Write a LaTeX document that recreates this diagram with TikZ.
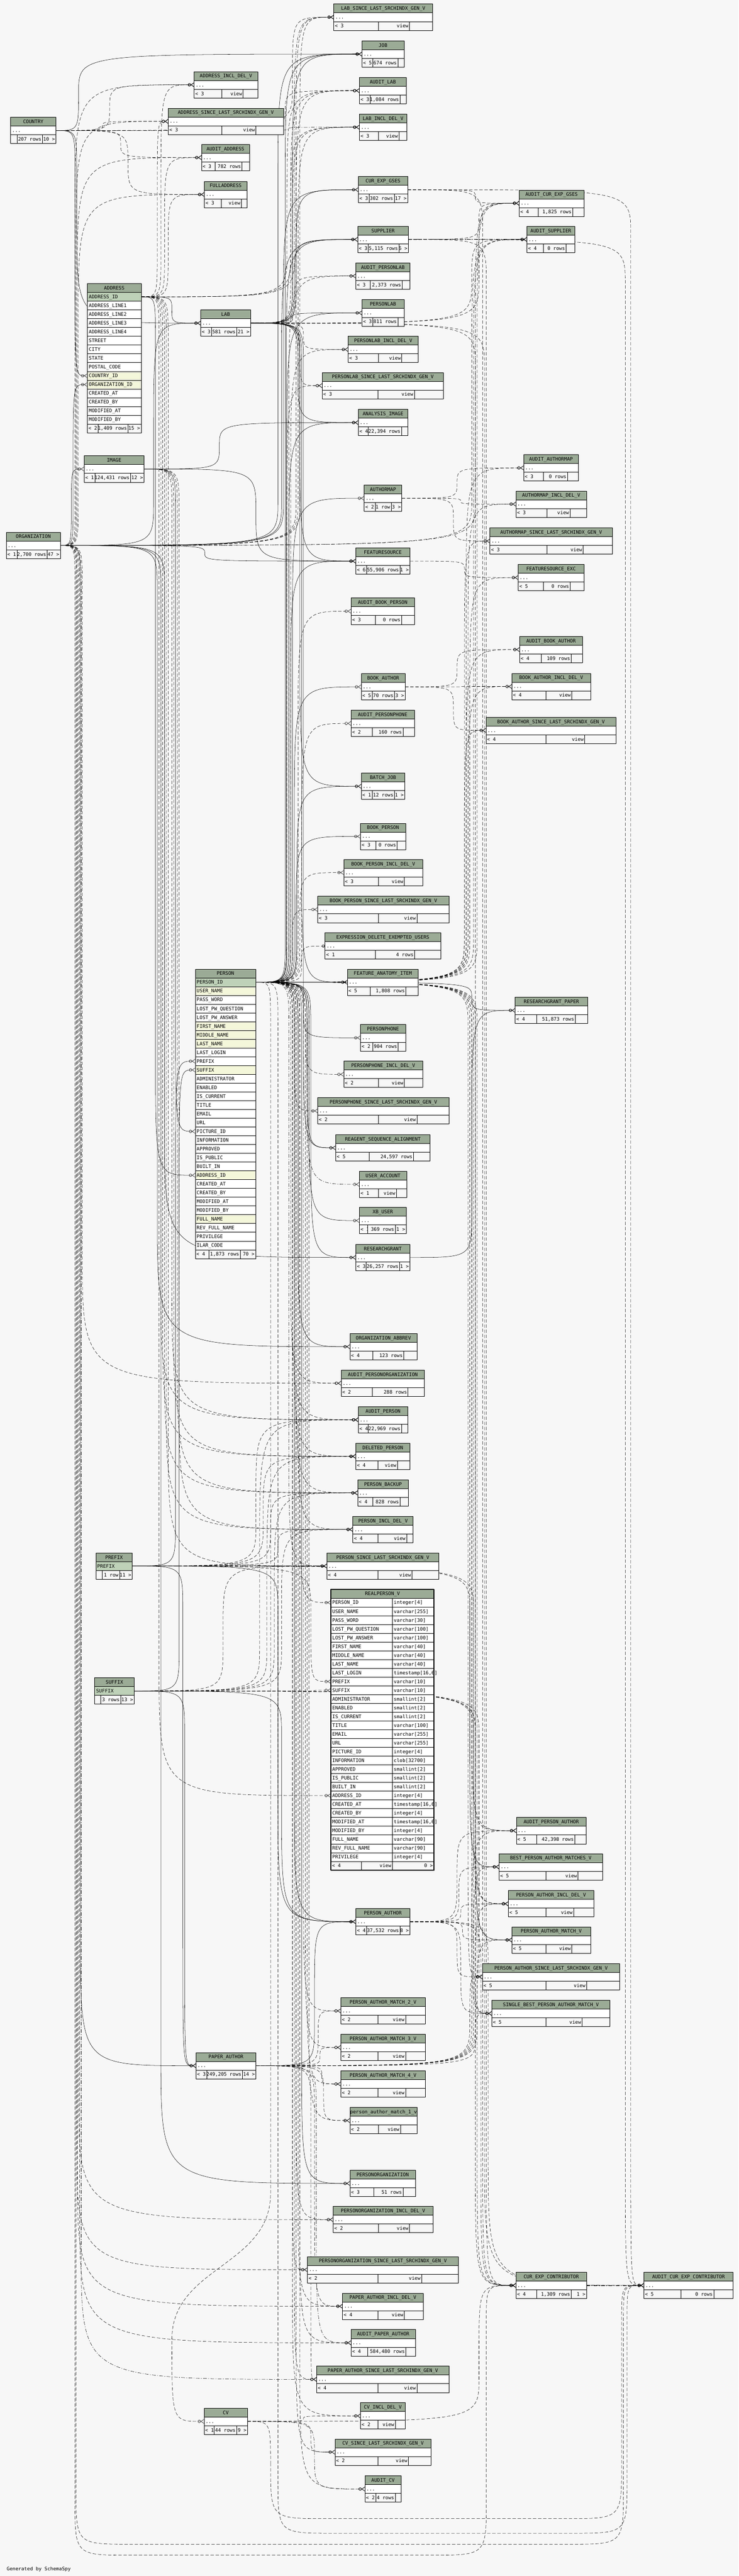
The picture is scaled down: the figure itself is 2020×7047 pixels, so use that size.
\documentclass[tikz,border=0pt]{standalone}
\usepackage{fontspec}
\newfontfamily\schemamono{DejaVu Sans Mono}
\usetikzlibrary{arrows.meta,calc,backgrounds,positioning}
\definecolor{bgcol}{HTML}{F7F7F7}
\definecolor{hdcol}{HTML}{9BAB96}
\definecolor{pkcol}{HTML}{BED1B8}
\definecolor{ixcol}{HTML}{F4F7DA}
\newcommand\schemafont{\schemamono\fontsize{13.2pt}{15pt}\selectfont}
\tikzset{
  tcell/.style={draw=black,line width=1pt,inner sep=0pt,outer sep=0pt,minimum height=24pt,
    text height=12.6pt,text depth=3pt,anchor=north west,font=\schemafont},
  hd/.style={tcell,fill=hdcol},
  plain/.style={tcell,fill=white},
  pk/.style={tcell,fill=pkcol},
  ix/.style={tcell,fill=ixcol},
  ft/.style={tcell,fill=bgcol},
  link/.style={line width=0.75pt,-{Circle[open,length=8pt,width=8pt]Straight Barb[reversed,length=8pt,width=11pt]}},
  implied/.style={dash pattern=on 9pt off 5pt},
  dotdash/.style={dash pattern=on 10pt off 4pt on 2pt off 4pt},
  onlyone/.style={-{Circle[open,length=8pt,width=8pt]Bar[width=11pt]}}
}
\newcommand\tblfoot[9]{%
  \node[ft,minimum width=#5pt] (#1-a) at (#2,#3) {\makebox[\dimexpr#5pt-6pt\relax][l]{#7}};
  \node[ft,minimum width=#6pt] (#1-b) at (#1-a.north east) {\makebox[\dimexpr#6pt-6pt\relax][r]{#8}};
  \node[ft,minimum width={#4-#5-#6}] (#1-c) at (#1-b.north east) {\makebox[\dimexpr#4pt-#5pt-#6pt-6pt\relax][r]{#9}};}
\newcommand\tbl[9]{%
  \node[hd,minimum width=#4pt] (#1-h) at (#2,#3) {#1};
  \node[plain,minimum width=#4pt] (#1) at (#1-h.south west) {\makebox[\dimexpr#4pt-8pt\relax][l]{...}};
  \tblfoot{#1}{#2}{{#3+48}}{#4}{#5}{#6}{#7}{#8}{#9}}
\newcommand\fkey[4][]{%
  \draw[link,#1] let \p1=(#2),\p2=(#4),
    \n1={ifthenelse(\y2<\y1,-1,1)},
    \n2={min(120,abs(\y2-\y1)/2)},
    \n3={min(350,abs(\y2-\y1)/2)} in
    (\p1) .. controls (#3pt,\y1) .. (#3pt,{\y1+(\n1)*(\n2)})
    -- (#3pt,{\y2-(\n1)*(\n3)}) .. controls (#3pt,\y2) .. (\p2);}
\newcommand\fkeyb[6][]{%
  \draw[link,#1] let \p1=(#2),\p2=(#6) in
    (\p1) .. controls (#3pt,\y1) .. (#3pt,{\y1-120pt})
    -- (#3pt,{-#4pt+150pt}) .. controls (#3pt,-#4pt) .. ({#3pt+150pt},-#4pt)
    -- ({#5pt-150pt},-#4pt) .. controls (#5pt,-#4pt) .. (#5pt,{-#4pt+150pt})
    -- (#5pt,{\y2-100pt}) .. controls (#5pt,\y2) .. (\p2);}
\begin{document}
\catcode`\_=12
\begin{tikzpicture}[x=1pt,y=-1pt,line join=round]
\useasboundingbox (0,0) rectangle (2020,7047);
\begin{pgfonlayer}{background}
\fill[bgcol] (0,0) rectangle (2020,7047);
\end{pgfonlayer}

\tbl{LAB_SINCE_LAST_SRCHINDX_GEN_V}{913}{11}{270}{122}{85}{< 3}{view}{}
\tbl{JOB}{990}{112}{115}{29}{69}{< 5}{674 rows}{}
\tbl{ADDRESS_INCL_DEL_V}{531}{196}{174}{75}{59}{< 3}{view}{}
\tbl{AUDIT_LAB}{983}{212}{128}{29}{82}{< 3}{1,084 rows}{}
\tbl{ADDRESS_SINCE_LAST_SRCHINDX_GEN_V}{460}{296}{315}{146}{94}{< 3}{view}{}
\tbl{LAB_INCL_DEL_V}{983}{312}{129}{52}{56}{< 3}{view}{}
\tbl{COUNTRY}{29}{321}{124}{18}{69}{}{207 rows}{10 >}
\tbl{AUDIT_ADDRESS}{551}{395}{131}{37}{74}{< 3}{782 rows}{}
\tbl{CUR_EXP_GSES}{980}{483}{135}{29}{69}{< 3}{302 rows}{17 >}
\tbl{FULLADDRESS}{559}{496}{116}{46}{55}{< 3}{view}{}
\tbl{AUDIT_CUR_EXP_GSES}{1420}{520}{177}{52}{94}{< 4}{1,825 rows}{}
\tbl{SUPPLIER}{978}{619}{139}{29}{84}{< 3}{5,115 rows}{6 >}
\tbl{AUDIT_SUPPLIER}{1441}{619}{131}{45}{62}{< 4}{0 rows}{}
\tbl{AUDIT_PERSONLAB}{973}{719}{148}{39}{88}{< 3}{2,373 rows}{}
\tbl{PERSONLAB}{990}{820}{115}{29}{69}{< 3}{811 rows}{}
\tbl{LAB}{549}{848}{136}{30}{68}{< 3}{581 rows}{21 >}
\tbl{PERSONLAB_INCL_DEL_V}{952}{920}{192}{83}{64}{< 3}{view}{}
\tbl{PERSONLAB_SINCE_LAST_SRCHINDX_GEN_V}{881}{1019}{332}{153}{99}{< 3}{view}{}
\tbl{ANALYSIS_IMAGE}{980}{1120}{135}{27}{91}{< 4}{22,394 rows}{}
\tbl{AUDIT_AUTHORMAP}{1432}{1244}{150}{54}{66}{< 3}{0 rows}{}
\tbl{IMAGE}{230}{1247}{164}{30}{97}{< 1}{124,431 rows}{12 >}
\tbl{AUTHORMAP}{996}{1327}{103}{30}{44}{< 2}{1 row}{3 >}
\tbl{AUTHORMAP_INCL_DEL_V}{1411}{1343}{193}{85}{63}{< 3}{view}{}
\tbl{AUTHORMAP_SINCE_LAST_SRCHINDX_GEN_V}{1340}{1444}{335}{156}{99}{< 3}{view}{}
\tbl{ORGANIZATION}{17}{1456}{148}{30}{82}{< 1}{2,700 rows}{47 >}
\tbl{FEATURESOURCE}{973}{1499}{148}{30}{91}{< 6}{55,906 rows}{1 >}
\tbl{FEATURESOURCE_EXC}{1417}{1544}{180}{69}{73}{< 5}{0 rows}{}
\tbl{AUDIT_BOOK_PERSON}{960}{1636}{173}{66}{72}{< 3}{0 rows}{}
\tbl{AUDIT_BOOK_AUTHOR}{1421}{1741}{172}{59}{82}{< 4}{109 rows}{}
\tbl{BOOK_AUTHOR_INCL_DEL_V}{1400}{1842}{215}{93}{71}{< 4}{view}{}
\tbl{BOOK_AUTHOR}{988}{1843}{120}{30}{61}{< 5}{70 rows}{3 >}
\tbl{AUDIT_PERSONPHONE}{960}{1943}{173}{58}{84}{< 2}{160 rows}{}
\tbl{BOOK_AUTHOR_SINCE_LAST_SRCHINDX_GEN_V}{1329}{1962}{356}{164}{106}{< 4}{view}{}
\tbl{BATCH_JOB}{988}{2115}{119}{30}{61}{< 1}{12 rows}{1 >}
\tbl{BOOK_PERSON}{986}{2252}{123}{42}{58}{< 3}{0 rows}{}
\tbl{BOOK_PERSON_INCL_DEL_V}{940}{2351}{216}{95}{71}{< 3}{view}{}
\tbl{BOOK_PERSON_SINCE_LAST_SRCHINDX_GEN_V}{869}{2452}{359}{166}{105}{< 3}{view}{}
\tbl{EXPRESSION_DELETE_EXEMPTED_USERS}{889}{2552}{316}{137}{108}{< 1}{4 rows}{}
\tbl{FEATURE_ANATOMY_ITEM}{950}{2651}{194}{62}{98}{< 5}{1,808 rows}{}
\tbl{RESEARCHGRANT_PAPER}{1409}{2728}{198}{59}{105}{< 4}{51,873 rows}{}
\tbl{PERSONPHONE}{986}{2803}{123}{34}{69}{< 2}{904 rows}{}
\tbl{PERSONPHONE_INCL_DEL_V}{940}{2903}{216}{95}{71}{< 2}{view}{}
\tbl{PERSONPHONE_SINCE_LAST_SRCHINDX_GEN_V}{869}{3003}{359}{166}{105}{< 2}{view}{}
\tbl{REAGENT_SEQUENCE_ALIGNMENT}{918}{3104}{258}{91}{122}{< 5}{24,597 rows}{}
\tbl{USER_ACCOUNT}{983}{3204}{129}{52}{49}{< 1}{view}{}
\tbl{XB_USER}{983}{3303}{128}{22}{76}{< 1}{369 rows}{1 >}
\tbl{RESEARCHGRANT}{973}{3404}{148}{28}{92}{< 3}{26,257 rows}{1 >}
\tbl{ORGANIZATION_ABBREV}{957}{3648}{183}{63}{84}{< 4}{123 rows}{}
\tbl{AUDIT_PERSONORGANIZATION}{933}{3748}{228}{85}{98}{< 2}{288 rows}{}
\tbl{AUDIT_PERSON}{980}{3848}{135}{27}{91}{< 4}{22,969 rows}{}
\tbl{DELETED_PERSON}{973}{3948}{148}{61}{53}{< 4}{view}{}
\tbl{PERSON_BACKUP}{978}{4048}{139}{41}{75}{< 4}{828 rows}{}
\tbl{PERSON_INCL_DEL_V}{965}{4148}{165}{69}{78}{< 4}{view}{}
\tbl{PERSON_SINCE_LAST_SRCHINDX_GEN_V}{894}{4248}{306}{140}{93}{< 4}{view}{}
\tbl{AUDIT_PERSON_AUTHOR}{1412}{4972}{191}{56}{104}{< 5}{42,398 rows}{}
\tbl{BEST_PERSON_AUTHOR_MATCHES_V}{1365}{5071}{283}{128}{88}{< 5}{view}{}
\tbl{PERSON_AUTHOR_INCL_DEL_V}{1390}{5172}{234}{103}{76}{< 5}{view}{}
\tbl{PERSON_AUTHOR}{973}{5221}{148}{30}{91}{< 4}{37,532 rows}{8 >}
\tbl{PERSON_AUTHOR_MATCH_V}{1400}{5271}{215}{93}{71}{< 5}{view}{}
\tbl{PERSON_AUTHOR_SINCE_LAST_SRCHINDX_GEN_V}{1319}{5372}{376}{174}{111}{< 5}{view}{}
\tbl{PERSON_AUTHOR_MATCH_2_V}{932}{5465}{231}{102}{75}{< 2}{view}{}
\tbl{SINGLE_BEST_PERSON_AUTHOR_MATCH_V}{1345}{5472}{323}{148}{99}{< 5}{view}{}
\tbl{PERSON_AUTHOR_MATCH_3_V}{932}{5565}{231}{102}{75}{< 2}{view}{}
\tbl{PAPER_AUTHOR}{536}{5615}{164}{30}{97}{< 3}{249,205 rows}{14 >}
\tbl{PERSON_AUTHOR_MATCH_4_V}{932}{5665}{231}{102}{75}{< 2}{view}{}
\tbl{person_author_match_1_v}{957}{5765}{184}{78}{60}{< 2}{view}{}
\tbl{PERSONORGANIZATION}{957}{5937}{179}{65}{80}{< 3}{51 rows}{}
\tbl{PERSONORGANIZATION_INCL_DEL_V}{911}{6036}{273}{124}{85}{< 2}{view}{}
\tbl{PERSONORGANIZATION_SINCE_LAST_SRCHINDX_GEN_V}{841}{6173}{412}{193}{119}{< 2}{view}{}
\tbl{CUR_EXP_CONTRIBUTOR}{1411}{6216}{193}{56}{95}{< 4}{1,309 rows}{1 >}
\tbl{AUDIT_CUR_EXP_CONTRIBUTOR}{1761}{6216}{244}{101}{90}{< 5}{0 rows}{}
\tbl{PAPER_AUTHOR_INCL_DEL_V}{937}{6273}{220}{97}{72}{< 4}{view}{}
\tbl{AUDIT_PAPER_AUTHOR}{960}{6373}{176}{45}{105}{< 4}{584,480 rows}{}
\tbl{PAPER_AUTHOR_SINCE_LAST_SRCHINDX_GEN_V}{866}{6473}{362}{168}{106}{< 4}{view}{}
\tbl{CV_INCL_DEL_V}{986}{6573}{122}{48}{47}{< 2}{view}{}
\tbl{CV}{558}{6588}{119}{28}{61}{< 1}{44 rows}{9 >}
\tbl{CV_SINCE_LAST_SRCHINDX_GEN_V}{916}{6672}{263}{118}{83}{< 2}{view}{}
\tbl{AUDIT_CV}{998}{6773}{99}{30}{53}{< 2}{4 rows}{}

\node[hd,minimum width=147pt] (ADDRESS) at (239,776) {ADDRESS};
\foreach \c/\s [count=\i] in {ADDRESS_ID/pk,ADDRESS_LINE1/plain,ADDRESS_LINE2/plain,ADDRESS_LINE3/plain,ADDRESS_LINE4/plain,STREET/plain,CITY/plain,STATE/plain,POSTAL_CODE/plain,COUNTRY_ID/ix,ORGANIZATION_ID/ix,CREATED_AT/plain,CREATED_BY/plain,MODIFIED_AT/plain,MODIFIED_BY/plain}
  \node[\s,minimum width=147pt] (ADDRESS-\c) at (239,{776+24*\i}) {\makebox[139pt][l]{\c}};
\tblfoot{ADDRESS}{239}{1160}{147}{29}{82}{< 2}{1,409 rows}{15 >}

\node[hd,minimum width=165pt] (PERSON) at (534,2651) {PERSON};
\foreach \c/\s [count=\i] in {PERSON_ID/pk,USER_NAME/ix,PASS_WORD/plain,LOST_PW_QUESTION/plain,LOST_PW_ANSWER/plain,FIRST_NAME/ix,MIDDLE_NAME/ix,LAST_NAME/ix,LAST_LOGIN/plain,PREFIX/plain,SUFFIX/ix,ADMINISTRATOR/plain,ENABLED/plain,IS_CURRENT/plain,TITLE/plain,EMAIL/plain,URL/plain,PICTURE_ID/plain,INFORMATION/plain,APPROVED/plain,IS_PUBLIC/plain,BUILT_IN/plain,ADDRESS_ID/ix,CREATED_AT/plain,CREATED_BY/plain,MODIFIED_AT/plain,MODIFIED_BY/plain,FULL_NAME/ix,REV_FULL_NAME/plain,PRIVILEGE/plain,ILAR_CODE/plain}
  \node[\s,minimum width=165pt] (PERSON-\c) at (534,{2651+24*\i}) {\makebox[157pt][l]{\c}};
\tblfoot{PERSON}{534}{3419}{165}{38}{85}{< 4}{1,873 rows}{70 >}

\node[hd,minimum width=100pt] (PREFIX) at (262,4248) {PREFIX};
\node[pk,minimum width=100pt] (PREFIX-PREFIX) at (PREFIX.south west) {\makebox[92pt][l]{PREFIX}};
\tblfoot{PREFIX}{262}{4296}{100}{18}{47}{}{1 row}{11 >}

\node[hd,minimum width=108pt] (SUFFIX) at (259,4590) {SUFFIX};
\node[pk,minimum width=108pt] (SUFFIX-SUFFIX) at (SUFFIX.south west) {\makebox[100pt][l]{SUFFIX}};
\tblfoot{SUFFIX}{259}{4638}{108}{17}{54}{}{3 rows}{13 >}

\node[hd,minimum width=282pt] (REALPERSON_V) at (905,4348) {REALPERSON_V};
\foreach \c/\ty [count=\i] in {PERSON_ID/integer[4],USER_NAME/varchar[255],PASS_WORD/varchar[30],LOST_PW_QUESTION/varchar[100],LOST_PW_ANSWER/varchar[100],FIRST_NAME/varchar[40],MIDDLE_NAME/varchar[40],LAST_NAME/varchar[40],LAST_LOGIN/{timestamp[16,6]},PREFIX/varchar[10],SUFFIX/varchar[10],ADMINISTRATOR/smallint[2],ENABLED/smallint[2],IS_CURRENT/smallint[2],TITLE/varchar[100],EMAIL/varchar[255],URL/varchar[255],PICTURE_ID/integer[4],INFORMATION/clob[32700],APPROVED/smallint[2],IS_PUBLIC/smallint[2],BUILT_IN/smallint[2],ADDRESS_ID/integer[4],CREATED_AT/{timestamp[16,6]},CREATED_BY/integer[4],MODIFIED_AT/{timestamp[16,6]},MODIFIED_BY/integer[4],FULL_NAME/varchar[90],REV_FULL_NAME/varchar[90],PRIVILEGE/integer[4]}
  {\node[plain,minimum width=168pt] (REALPERSON_V-\c) at (905,{4348+24*\i}) {\makebox[160pt][l]{\c}};
   \node[plain,minimum width=114pt] (REALPERSON_V-\c-type) at (1073,{4348+24*\i}) {\makebox[106pt][l]{\ty}};}
\tblfoot{REALPERSON_V}{905}{5092}{282}{83}{85}{< 4}{view}{0 >}
\draw[line width=3pt] (REALPERSON_V.north west) rectangle (REALPERSON_V-c.south east);

\node[font=\schemafont,anchor=west] (generated) at (15,7028) {Generated by SchemaSpy};

\begin{pgfonlayer}{background}
% COUNTRY
\fkey{COUNTRY.east}{205}{ADDRESS-COUNTRY_ID.west}
\fkey{COUNTRY.east}{215}{JOB.west}
\fkey{COUNTRY.east}{210}{LAB.west}
\fkey[implied]{COUNTRY.east}{300}{ADDRESS_INCL_DEL_V.west}
\fkey[implied]{COUNTRY.east}{280}{ADDRESS_SINCE_LAST_SRCHINDX_GEN_V.west}
\fkey[implied]{COUNTRY.east}{330}{AUDIT_ADDRESS.west}
\fkey[implied]{COUNTRY.east}{350}{FULLADDRESS.west}
\fkey[implied]{COUNTRY.east}{780}{AUDIT_LAB.west}
\fkey[dotdash]{COUNTRY.east}{790}{LAB_INCL_DEL_V.west}
\fkey[implied]{COUNTRY.east}{800}{LAB_SINCE_LAST_SRCHINDX_GEN_V.west}
% ADDRESS
\fkey{ADDRESS-ADDRESS_ID.east}{470}{LAB.west}
\fkey{ADDRESS-ADDRESS_ID.east}{425}{PERSON-ADDRESS_ID.west}
\fkey[implied]{ADDRESS-ADDRESS_ID.east}{440}{ADDRESS_INCL_DEL_V.west}
\fkey[implied]{ADDRESS-ADDRESS_ID.east}{430}{ADDRESS_SINCE_LAST_SRCHINDX_GEN_V.west}
\fkey[implied]{ADDRESS-ADDRESS_ID.east}{450}{AUDIT_ADDRESS.west}
\fkey[implied]{ADDRESS-ADDRESS_ID.east}{460}{FULLADDRESS.west}
\fkey[implied]{ADDRESS-ADDRESS_ID.east}{785}{AUDIT_LAB.west}
\fkey[implied]{ADDRESS-ADDRESS_ID.east}{795}{LAB_INCL_DEL_V.west}
\fkey[dotdash]{ADDRESS-ADDRESS_ID.east}{805}{LAB_SINCE_LAST_SRCHINDX_GEN_V.west}
\fkey[implied]{ADDRESS-ADDRESS_ID.east}{440}{AUDIT_PERSON.west}
\fkey[implied]{ADDRESS-ADDRESS_ID.east}{445}{DELETED_PERSON.west}
\fkey[implied]{ADDRESS-ADDRESS_ID.east}{450}{PERSON_BACKUP.west}
\fkey[implied]{ADDRESS-ADDRESS_ID.east}{455}{PERSON_INCL_DEL_V.west}
\fkey[implied]{ADDRESS-ADDRESS_ID.east}{460}{PERSON_SINCE_LAST_SRCHINDX_GEN_V.west}
\fkey[implied]{ADDRESS-ADDRESS_ID.east}{435}{REALPERSON_V-ADDRESS_ID.west}
% ORGANIZATION
\fkey{ORGANIZATION.east}{195}{IMAGE.west}
\fkey{ORGANIZATION.east}{200}{ADDRESS-ORGANIZATION_ID.west}
\fkey[implied]{ORGANIZATION.east}{205}{ADDRESS_INCL_DEL_V.west}
\fkey[implied]{ORGANIZATION.east}{208}{ADDRESS_SINCE_LAST_SRCHINDX_GEN_V.west}
\fkey[implied]{ORGANIZATION.east}{211}{AUDIT_ADDRESS.west}
\fkey[implied]{ORGANIZATION.east}{214}{FULLADDRESS.west}
\fkey{ORGANIZATION.east}{420}{LAB.west}
\fkey[implied]{ORGANIZATION.east}{810}{AUDIT_LAB.west}
\fkey[implied]{ORGANIZATION.east}{815}{LAB_INCL_DEL_V.west}
\fkey[implied]{ORGANIZATION.east}{820}{LAB_SINCE_LAST_SRCHINDX_GEN_V.west}
\fkey{ORGANIZATION.east}{760}{JOB.west}
\fkey{ORGANIZATION.east}{770}{SUPPLIER.west}
\fkey{ORGANIZATION.east}{775}{CUR_EXP_GSES.west}
\fkey[implied]{ORGANIZATION.east}{1290}{AUDIT_SUPPLIER.west}
\fkey[dotdash]{ORGANIZATION.east}{1300}{AUDIT_CUR_EXP_GSES.west}
\fkey{ORGANIZATION.east}{560}{FEATURESOURCE.west}
\fkey{ORGANIZATION.east}{430}{ORGANIZATION_ABBREV.west}
\fkey[implied]{ORGANIZATION.east}{225}{AUDIT_PERSONORGANIZATION.west}
\fkey{ORGANIZATION.east}{450}{RESEARCHGRANT.west}
\fkey{ORGANIZATION.east}{440}{PERSONORGANIZATION.west}
\fkey[implied]{ORGANIZATION.east}{215}{PERSONORGANIZATION_INCL_DEL_V.west}
\fkey[implied]{ORGANIZATION.east}{210}{PERSONORGANIZATION_SINCE_LAST_SRCHINDX_GEN_V.west}
\fkey{ORGANIZATION.east}{220}{PAPER_AUTHOR.west}
\fkey[implied]{ORGANIZATION.east}{212}{PAPER_AUTHOR_INCL_DEL_V.west}
\fkey[implied]{ORGANIZATION.east}{218}{AUDIT_PAPER_AUTHOR.west}
\fkey[dotdash]{ORGANIZATION.east}{222}{PAPER_AUTHOR_SINCE_LAST_SRCHINDX_GEN_V.west}
\fkeyb[implied]{ORGANIZATION.east}{205}{6990}{1330}{CUR_EXP_CONTRIBUTOR.west}
\fkeyb[implied]{ORGANIZATION.east}{208}{6960}{1705}{AUDIT_CUR_EXP_CONTRIBUTOR.west}
% IMAGE
\fkey{IMAGE.east}{600}{ANALYSIS_IMAGE.west}
\fkey{IMAGE.east}{480}{PERSON-PICTURE_ID.west}
\fkey{IMAGE.east}{700}{FEATURESOURCE.west}
\fkey[implied]{IMAGE.east}{470}{AUDIT_PERSON.west}
\fkey[implied]{IMAGE.east}{475}{DELETED_PERSON.west}
\fkey[implied]{IMAGE.east}{485}{PERSON_BACKUP.west}
\fkey[implied]{IMAGE.east}{490}{PERSON_INCL_DEL_V.west}
% LAB
\fkey{LAB.east}{800}{JOB.west}
\fkey{LAB.east}{800}{PERSONLAB.west}
\fkey[implied]{LAB.east}{805}{AUDIT_PERSONLAB.west}
\fkey[implied]{LAB.east}{830}{PERSONLAB_INCL_DEL_V.west}
\fkey[implied]{LAB.east}{820}{PERSONLAB_SINCE_LAST_SRCHINDX_GEN_V.west}
\fkey[implied]{LAB.east}{795}{AUDIT_LAB.west}
\fkey[implied]{LAB.east}{800}{LAB_INCL_DEL_V.west}
\fkey[implied]{LAB.east}{810}{LAB_SINCE_LAST_SRCHINDX_GEN_V.west}
\fkey{LAB.east}{805}{SUPPLIER.west}
\fkey{LAB.east}{810}{CUR_EXP_GSES.west}
\fkey[implied]{LAB.east}{1290}{AUDIT_SUPPLIER.west}
\fkey[implied]{LAB.east}{1310}{AUDIT_CUR_EXP_GSES.west}
\fkey{LAB.east}{815}{ANALYSIS_IMAGE.west}
\fkey{LAB.east}{820}{FEATURESOURCE.west}
\fkey{LAB.east}{825}{FEATURE_ANATOMY_ITEM.west}
\fkey{LAB.east}{830}{REAGENT_SEQUENCE_ALIGNMENT.west}
\fkey{LAB.east}{820}{BATCH_JOB.west}
\fkey[implied]{LAB.east}{1300}{CUR_EXP_CONTRIBUTOR.west}
\fkey[implied]{LAB.east}{1325}{AUDIT_CUR_EXP_CONTRIBUTOR.west}
% CUR_EXP_GSES, SUPPLIER
\fkey[implied]{CUR_EXP_GSES.east}{1300}{AUDIT_CUR_EXP_GSES.west}
\fkey[implied]{CUR_EXP_GSES.east}{1320}{CUR_EXP_CONTRIBUTOR.west}
\fkey[implied]{CUR_EXP_GSES.east}{1725}{AUDIT_CUR_EXP_CONTRIBUTOR.west}
\fkey[dotdash]{SUPPLIER.east}{1300}{AUDIT_SUPPLIER.west}
\fkey[implied]{SUPPLIER.east}{1310}{AUDIT_CUR_EXP_GSES.west}
\fkey[implied]{SUPPLIER.east}{1330}{CUR_EXP_CONTRIBUTOR.west}
\fkey[implied]{SUPPLIER.east}{1710}{AUDIT_CUR_EXP_CONTRIBUTOR.west}
% AUTHORMAP, FEATURESOURCE, BOOK_AUTHOR, RESEARCHGRANT
\fkey[implied]{AUTHORMAP.east}{1250}{AUDIT_AUTHORMAP.west}
\fkey[implied]{AUTHORMAP.east}{1260}{AUTHORMAP_INCL_DEL_V.west}
\fkey[implied]{AUTHORMAP.east}{1240}{AUTHORMAP_SINCE_LAST_SRCHINDX_GEN_V.west}
\fkey[implied]{FEATURESOURCE.east}{1270}{FEATURESOURCE_EXC.west}
\fkey[implied]{BOOK_AUTHOR.east}{1250}{AUDIT_BOOK_AUTHOR.west}
\fkey[implied]{BOOK_AUTHOR.east}{1260}{BOOK_AUTHOR_INCL_DEL_V.west}
\fkey[implied]{BOOK_AUTHOR.east}{1240}{BOOK_AUTHOR_SINCE_LAST_SRCHINDX_GEN_V.west}
\fkey{RESEARCHGRANT.east}{1290}{RESEARCHGRANT_PAPER.west}
% PERSON
\fkey{PERSON-PERSON_ID.east}{780}{JOB.west}
\fkey{PERSON-PERSON_ID.east}{783}{SUPPLIER.west}
\fkey{PERSON-PERSON_ID.east}{785}{PERSONLAB.west}
\fkey{PERSON-PERSON_ID.east}{790}{ANALYSIS_IMAGE.west}
\fkey{PERSON-PERSON_ID.east}{795}{FEATURESOURCE.west}
\fkey{PERSON-PERSON_ID.east}{800}{AUTHORMAP.west}
\fkey{PERSON-PERSON_ID.east}{805}{BOOK_AUTHOR.west}
\fkey{PERSON-PERSON_ID.east}{810}{BOOK_PERSON.west}
\fkey{PERSON-PERSON_ID.east}{812}{BATCH_JOB.west}
\fkey{PERSON-PERSON_ID.east}{820}{FEATURE_ANATOMY_ITEM.west}
\fkey{PERSON-PERSON_ID.east}{1290}{RESEARCHGRANT_PAPER.west}
\fkey{PERSON-PERSON_ID.east}{830}{PERSONPHONE.west}
\fkey{PERSON-PERSON_ID.east}{840}{REAGENT_SEQUENCE_ALIGNMENT.west}
\fkey{PERSON-PERSON_ID.east}{845}{XB_USER.west}
\fkey{PERSON-PERSON_ID.east}{850}{RESEARCHGRANT.west}
\fkey{PERSON-PERSON_ID.east}{815}{ORGANIZATION_ABBREV.west}
\fkey{PERSON-PERSON_ID.east}{805}{PERSON_AUTHOR.west}
\fkey{PERSON-PERSON_ID.east}{825}{PERSONORGANIZATION.west}
\fkey[implied]{PERSON-PERSON_ID.east}{790}{AUDIT_PERSONLAB.west}
\fkey[implied]{PERSON-PERSON_ID.east}{795}{PERSONLAB_INCL_DEL_V.west}
\fkey[implied]{PERSON-PERSON_ID.east}{785}{PERSONLAB_SINCE_LAST_SRCHINDX_GEN_V.west}
\fkey[implied]{PERSON-PERSON_ID.east}{815}{AUDIT_BOOK_PERSON.west}
\fkey[implied]{PERSON-PERSON_ID.east}{825}{AUDIT_PERSONPHONE.west}
\fkey[implied]{PERSON-PERSON_ID.east}{820}{BOOK_PERSON_INCL_DEL_V.west}
\fkey[implied]{PERSON-PERSON_ID.east}{800}{BOOK_PERSON_SINCE_LAST_SRCHINDX_GEN_V.west}
\fkey[implied,onlyone]{PERSON-PERSON_ID.east}{825}{EXPRESSION_DELETE_EXEMPTED_USERS.west}
\fkey[implied]{PERSON-PERSON_ID.east}{835}{PERSONPHONE_INCL_DEL_V.west}
\fkey[implied]{PERSON-PERSON_ID.east}{805}{PERSONPHONE_SINCE_LAST_SRCHINDX_GEN_V.west}
\fkey[dotdash]{PERSON-PERSON_ID.east}{840}{USER_ACCOUNT.west}
\fkey[implied]{PERSON-PERSON_ID.east}{795}{AUDIT_PERSONORGANIZATION.west}
\fkey[implied]{PERSON-PERSON_ID.east}{800}{AUDIT_PERSON.west}
\fkey[implied]{PERSON-PERSON_ID.east}{805}{DELETED_PERSON.west}
\fkey[implied]{PERSON-PERSON_ID.east}{810}{PERSON_BACKUP.west}
\fkey[implied]{PERSON-PERSON_ID.east}{815}{PERSON_INCL_DEL_V.west}
\fkey[dotdash]{PERSON-PERSON_ID.east}{790}{PERSON_SINCE_LAST_SRCHINDX_GEN_V.west}
\fkey[implied]{PERSON-PERSON_ID.east}{820}{REALPERSON_V-PERSON_ID.west}
\fkey[implied]{PERSON-PERSON_ID.east}{1275}{AUDIT_AUTHORMAP.west}
\fkey[implied]{PERSON-PERSON_ID.east}{1280}{AUTHORMAP_INCL_DEL_V.west}
\fkey[implied]{PERSON-PERSON_ID.east}{1270}{AUTHORMAP_SINCE_LAST_SRCHINDX_GEN_V.west}
\fkey[implied]{PERSON-PERSON_ID.east}{1285}{FEATURESOURCE_EXC.west}
\fkey[implied]{PERSON-PERSON_ID.east}{1275}{AUDIT_BOOK_AUTHOR.west}
\fkey[implied]{PERSON-PERSON_ID.east}{1280}{BOOK_AUTHOR_INCL_DEL_V.west}
\fkey[implied]{PERSON-PERSON_ID.east}{1270}{BOOK_AUTHOR_SINCE_LAST_SRCHINDX_GEN_V.west}
\fkey[implied]{PERSON-PERSON_ID.east}{830}{PERSON_AUTHOR_MATCH_2_V.west}
\fkey[implied]{PERSON-PERSON_ID.east}{835}{PERSON_AUTHOR_MATCH_3_V.west}
\fkey[implied]{PERSON-PERSON_ID.east}{840}{PERSON_AUTHOR_MATCH_4_V.west}
\fkey[implied]{PERSON-PERSON_ID.east}{845}{person_author_match_1_v.west}
\fkey[implied]{PERSON-PERSON_ID.east}{1290}{AUDIT_PERSON_AUTHOR.west}
\fkey[implied]{PERSON-PERSON_ID.east}{1285}{BEST_PERSON_AUTHOR_MATCHES_V.west}
\fkey[implied]{PERSON-PERSON_ID.east}{1295}{PERSON_AUTHOR_INCL_DEL_V.west}
\fkey[implied]{PERSON-PERSON_ID.east}{1300}{PERSON_AUTHOR_MATCH_V.west}
\fkey[implied]{PERSON-PERSON_ID.east}{1280}{PERSON_AUTHOR_SINCE_LAST_SRCHINDX_GEN_V.west}
\fkey[implied]{PERSON-PERSON_ID.east}{1290}{SINGLE_BEST_PERSON_AUTHOR_MATCH_V.west}
\fkey[implied]{PERSON-PERSON_ID.east}{810}{PERSONORGANIZATION_INCL_DEL_V.west}
\fkey[implied]{PERSON-PERSON_ID.east}{800}{PERSONORGANIZATION_SINCE_LAST_SRCHINDX_GEN_V.west}
\fkey[implied]{PERSON-PERSON_ID.east}{815}{PAPER_AUTHOR_INCL_DEL_V.west}
\fkey[implied]{PERSON-PERSON_ID.east}{820}{AUDIT_PAPER_AUTHOR.west}
\fkey[implied]{PERSON-PERSON_ID.east}{805}{PAPER_AUTHOR_SINCE_LAST_SRCHINDX_GEN_V.west}
\fkey[implied]{PERSON-PERSON_ID.east}{800}{CV_INCL_DEL_V.west}
\fkey[implied]{PERSON-PERSON_ID.east}{810}{CV_SINCE_LAST_SRCHINDX_GEN_V.west}
\fkey[implied]{PERSON-PERSON_ID.east}{820}{AUDIT_CV.west}
\fkey[implied]{PERSON-PERSON_ID.east}{1305}{CUR_EXP_CONTRIBUTOR.west}
\fkey[implied]{PERSON-PERSON_ID.east}{1305}{AUDIT_CUR_EXP_GSES.west}
\fkey[implied]{PERSON-PERSON_ID.east}{1295}{AUDIT_SUPPLIER.west}
\fkeyb[implied]{PERSON-PERSON_ID.east}{760}{6930}{1715}{AUDIT_CUR_EXP_CONTRIBUTOR.west}
\draw[link,implied] (PERSON-PERSON_ID.east) .. controls (740,2687) .. (740,2807) -- (740,6000)
  .. controls (740,6200) and (470,6200) .. (470,6400) .. controls (470,6624) .. (CV.west);
% PREFIX
\fkey{PREFIX-PREFIX.east}{480}{PERSON-PREFIX.west}
\fkey[implied]{PREFIX-PREFIX.east}{850}{REALPERSON_V-PREFIX.west}
\fkey[implied]{PREFIX-PREFIX.east}{700}{AUDIT_PERSON.west}
\fkey[implied]{PREFIX-PREFIX.east}{720}{DELETED_PERSON.west}
\fkey[implied]{PREFIX-PREFIX.east}{740}{PERSON_BACKUP.west}
\fkey[implied]{PREFIX-PREFIX.east}{760}{PERSON_INCL_DEL_V.west}
\fkey[dotdash]{PREFIX-PREFIX.east}{600}{PERSON_SINCE_LAST_SRCHINDX_GEN_V.west}
\fkey{PREFIX-PREFIX.east}{500}{PAPER_AUTHOR.west}
\fkey{PREFIX-PREFIX.east}{760}{PERSON_AUTHOR.west}
\fkey[implied]{PREFIX-PREFIX.east}{1285}{BEST_PERSON_AUTHOR_MATCHES_V.west}
\fkey[implied]{PREFIX-PREFIX.east}{1295}{SINGLE_BEST_PERSON_AUTHOR_MATCH_V.west}
% SUFFIX
\fkey{SUFFIX-SUFFIX.east}{490}{PERSON-SUFFIX.west}
\fkey[implied]{SUFFIX-SUFFIX.east}{860}{REALPERSON_V-SUFFIX.west}
\fkey[implied]{SUFFIX-SUFFIX.east}{710}{AUDIT_PERSON.west}
\fkey[implied]{SUFFIX-SUFFIX.east}{730}{DELETED_PERSON.west}
\fkey[implied]{SUFFIX-SUFFIX.east}{750}{PERSON_BACKUP.west}
\fkey[implied]{SUFFIX-SUFFIX.east}{770}{PERSON_INCL_DEL_V.west}
\fkey[implied]{SUFFIX-SUFFIX.east}{610}{PERSON_SINCE_LAST_SRCHINDX_GEN_V.west}
\fkey{SUFFIX-SUFFIX.east}{505}{PAPER_AUTHOR.west}
\fkey{SUFFIX-SUFFIX.east}{770}{PERSON_AUTHOR.west}
\fkey[implied]{SUFFIX-SUFFIX.east}{1295}{AUDIT_PERSON_AUTHOR.west}
\fkey[implied]{SUFFIX-SUFFIX.east}{1300}{PERSON_AUTHOR_INCL_DEL_V.west}
\fkey[implied]{SUFFIX-SUFFIX.east}{1310}{PERSON_AUTHOR_SINCE_LAST_SRCHINDX_GEN_V.west}
\fkey[implied]{SUFFIX-SUFFIX.east}{1300}{PERSON_AUTHOR_MATCH_V.west}
% PAPER_AUTHOR
\fkey{PAPER_AUTHOR.east}{860}{PERSON_AUTHOR.west}
\fkey[implied]{PAPER_AUTHOR.east}{870}{PERSON_AUTHOR_MATCH_2_V.west}
\fkey[implied]{PAPER_AUTHOR.east}{875}{PERSON_AUTHOR_MATCH_3_V.west}
\fkey[implied]{PAPER_AUTHOR.east}{880}{PERSON_AUTHOR_MATCH_4_V.west}
\fkey[implied]{PAPER_AUTHOR.east}{885}{person_author_match_1_v.west}
\fkey[implied]{PAPER_AUTHOR.east}{860}{PAPER_AUTHOR_INCL_DEL_V.west}
\fkey[dotdash]{PAPER_AUTHOR.east}{865}{AUDIT_PAPER_AUTHOR.west}
\fkey[implied]{PAPER_AUTHOR.east}{850}{PAPER_AUTHOR_SINCE_LAST_SRCHINDX_GEN_V.west}
\fkey[implied]{PAPER_AUTHOR.east}{1290}{AUDIT_PERSON_AUTHOR.west}
\fkey[implied]{PAPER_AUTHOR.east}{1295}{BEST_PERSON_AUTHOR_MATCHES_V.west}
\fkey[implied]{PAPER_AUTHOR.east}{1300}{PERSON_AUTHOR_INCL_DEL_V.west}
\fkey[implied]{PAPER_AUTHOR.east}{1305}{PERSON_AUTHOR_MATCH_V.west}
\fkey[implied]{PAPER_AUTHOR.east}{1285}{PERSON_AUTHOR_SINCE_LAST_SRCHINDX_GEN_V.west}
\fkey[implied]{PAPER_AUTHOR.east}{1300}{SINGLE_BEST_PERSON_AUTHOR_MATCH_V.west}
% PERSON_AUTHOR
\fkey[implied]{PERSON_AUTHOR.east}{1250}{AUDIT_PERSON_AUTHOR.west}
\fkey[implied]{PERSON_AUTHOR.east}{1255}{BEST_PERSON_AUTHOR_MATCHES_V.west}
\fkey[implied]{PERSON_AUTHOR.east}{1260}{PERSON_AUTHOR_INCL_DEL_V.west}
\fkey[implied]{PERSON_AUTHOR.east}{1265}{PERSON_AUTHOR_MATCH_V.west}
\fkey[implied]{PERSON_AUTHOR.east}{1250}{PERSON_AUTHOR_SINCE_LAST_SRCHINDX_GEN_V.west}
\fkey[implied]{PERSON_AUTHOR.east}{1260}{SINGLE_BEST_PERSON_AUTHOR_MATCH_V.west}
\fkey[implied]{PERSON_AUTHOR.east}{1315}{CUR_EXP_CONTRIBUTOR.west}
\fkey[implied]{PERSON_AUTHOR.east}{1335}{AUDIT_CUR_EXP_CONTRIBUTOR.west}
% CV
\fkey[implied]{CV.east}{830}{CV_INCL_DEL_V.west}
\fkey[implied]{CV.east}{850}{CV_SINCE_LAST_SRCHINDX_GEN_V.west}
\fkey[dotdash]{CV.east}{860}{AUDIT_CV.west}
\fkey[implied]{CV.east}{1310}{CUR_EXP_CONTRIBUTOR.west}
\fkeyb[implied]{CV.east}{740}{6890}{1700}{AUDIT_CUR_EXP_CONTRIBUTOR.west}
\fkey[dotdash]{CUR_EXP_CONTRIBUTOR.east}{1680}{AUDIT_CUR_EXP_CONTRIBUTOR.west}
\end{pgfonlayer}
\end{tikzpicture}
\end{document}
